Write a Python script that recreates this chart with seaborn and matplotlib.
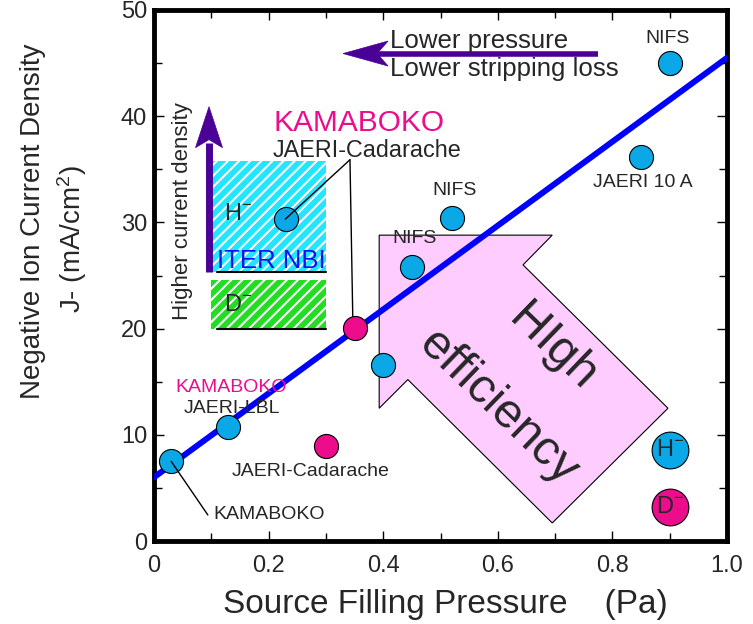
import numpy as np
import pandas as pd
import seaborn as sns
import matplotlib
matplotlib.use("Agg")
import matplotlib.pyplot as plt
from matplotlib.patches import Polygon, Rectangle
from matplotlib.transforms import ScaledTranslation
from matplotlib.ticker import MultipleLocator, FuncFormatter

# H- ion sources: filling pressure (Pa) and extracted current density (mA/cm2)
h_pressure = [0.03, 0.13, 0.23, 0.40, 0.45, 0.52, 0.85, 0.90]
h_density = [7.5, 10.7, 30.3, 16.6, 25.8, 30.4, 36.2, 45.0]
# D- ion sources
d_pressure = [0.30, 0.35]
d_density = [8.9, 20.1]
# trend line
fit_pressure = [0.0, 1.0]
fit_density = [6.0, 45.5]
# ITER NBI requirement bands (pressure range, current density range)
iter_pressure = [0.10, 0.30]
iter_h_density = [25.3, 35.75]
iter_d_density = [20.0, 24.6]

x_ticks = [0, 0.2, 0.4, 0.6, 0.8, 1.0]
y_ticks = [0, 10, 20, 30, 40, 50]

BLUE_PT = "#0AA8E6"
PINK_PT = "#EC0C8C"
PURPLE = "#4A0096"

sns.set_theme(style="white")
plt.rcParams["font.family"] = ["Liberation Sans", "DejaVu Sans"]
plt.rcParams["mathtext.fontset"] = "custom"
plt.rcParams["mathtext.rm"] = "Liberation Sans"
plt.rcParams["mathtext.it"] = "Liberation Sans:italic"
plt.rcParams["hatch.linewidth"] = 1.5
plt.rcParams["hatch.color"] = "white"

fig = plt.figure(figsize=(7.53, 6.24), dpi=100)
ax = fig.add_axes([154 / 753, 1 - 541 / 624, (727 - 154) / 753, (541 - 10) / 624])
ax.set_xlim(0, 1.0)
ax.set_ylim(0, 50)


def striped_band(y_range, color):
    """Solid band over the ITER pressure range with white diagonal stripes on top."""
    w = iter_pressure[1] - iter_pressure[0]
    h = y_range[1] - y_range[0]
    ax.add_patch(Rectangle((iter_pressure[0], y_range[0]), w, h, facecolor=color,
                           edgecolor="none", zorder=1.1))
    ax.add_patch(Rectangle((iter_pressure[0], y_range[0]), w, h, fill=False,
                           edgecolor="white", hatch="///", lw=0, zorder=1.2))


# ITER NBI bands
striped_band(iter_h_density, "#22E6FF")
striped_band(iter_d_density, "#22DD22")
ax.plot([0.11, iter_pressure[1]], [iter_h_density[0]] * 2, color="black", lw=1.5, zorder=2)
ax.plot([0.11, iter_pressure[1]], [iter_d_density[0]] * 2, color="black", lw=1.5, zorder=2)
ax.text(0.205, 26.4, "ITER NBI", color="#1010F0", fontsize=18.5, ha="center", va="center", zorder=3)
ax.text(0.122, 30.75, r"H$^{\mathregular{-}}$", fontsize=17, ha="left", va="center", zorder=3)
ax.text(0.122, 22.2, r"D$^{\mathregular{-}}$", fontsize=17, ha="left", va="center", zorder=3)

# large "high efficiency" arrow
big_arrow = [(0.393, 28.8), (0.695, 28.8), (0.644, 26.0), (0.897, 12.5),
             (0.695, 1.7), (0.443, 15.2), (0.393, 12.5)]
ax.add_patch(Polygon(big_arrow, closed=True, facecolor="#FFCCFF", edgecolor="black",
                     lw=0.8, zorder=1))
ax.text(0.696, 18.2, "HIgh", fontsize=35, rotation=-44, rotation_mode="anchor",
        ha="center", va="center", zorder=5)
ax.text(0.600, 12.5, "efficiency", fontsize=35, rotation=-44, rotation_mode="anchor",
        ha="center", va="center", zorder=5)


def stealth_head(tip, verts_px):
    """Notched arrow head whose outline is given in pixels relative to the tip."""
    trans = fig.dpi_scale_trans + ScaledTranslation(tip[0], tip[1], ax.transData)
    verts = [(vx / 100, vy / 100) for vx, vy in verts_px]
    ax.add_patch(Polygon(verts, closed=True, transform=trans, facecolor=PURPLE,
                         edgecolor=PURPLE, lw=0.5, zorder=4))


# horizontal arrow: lower pressure
ax.plot([0.39, 0.775], [45.9, 45.9], color=PURPLE, lw=4, solid_capstyle="butt", zorder=4)
stealth_head((0.33, 45.9), [(0, 0), (45, 12.5), (34, 0), (45, -12.5)])
ax.text(0.412, 47.1, "Lower pressure", fontsize=18.6, ha="left", va="center", zorder=5)
ax.text(0.412, 44.4, "Lower stripping loss", fontsize=18.6, ha="left", va="center", zorder=5)

# vertical arrow: higher current density
ax.plot([0.096, 0.096], [25.3, 37.5], color=PURPLE, lw=5, solid_capstyle="butt", zorder=4)
stealth_head((0.096, 40.9), [(0, 0), (13.5, -41), (0, -33), (-13.5, -41)])
ax.text(0.049, 31.1, "Higher current density", fontsize=16, rotation=90,
        ha="center", va="center", zorder=5)

# trend line
fit_df = pd.DataFrame({"p": fit_pressure, "j": fit_density})
sns.lineplot(data=fit_df, x="p", y="j", color="#0000FF", lw=4.3, ax=ax, zorder=3)

# leader lines
ax.plot([0.342, 0.229], [35.9, 30.3], color="black", lw=1, zorder=6)
ax.plot([0.342, 0.347], [35.9, 20.8], color="black", lw=1, zorder=3)
ax.plot([0.030, 0.094], [7.5, 2.45], color="black", lw=1, zorder=6)

# data points
h_df = pd.DataFrame({"p": h_pressure, "j": h_density})
d_df = pd.DataFrame({"p": d_pressure, "j": d_density})
sns.scatterplot(data=h_df, x="p", y="j", s=300, color=BLUE_PT, edgecolor="black",
                linewidth=0.8, ax=ax, zorder=5)
sns.scatterplot(data=d_df, x="p", y="j", s=300, color=PINK_PT, edgecolor="black",
                linewidth=0.8, ax=ax, zorder=5)

# key markers
ax.scatter([0.90], [8.6], s=700, color=BLUE_PT, edgecolor="black", lw=0.8, zorder=5)
ax.scatter([0.90], [3.2], s=700, color=PINK_PT, edgecolor="black", lw=0.8, zorder=5)
ax.text(0.90, 8.6, r"H$^{\mathregular{-}}$", fontsize=17, ha="center", va="center", zorder=6)
ax.text(0.90, 3.2, r"D$^{\mathregular{-}}$", fontsize=17, ha="center", va="center", zorder=6)

# source labels
lab = dict(fontsize=14, ha="center", va="center", zorder=6)
ax.text(0.897, 47.3, "NIFS", **lab)
ax.text(0.853, 33.8, "JAERI 10 A", **lab)
ax.text(0.525, 33.0, "NIFS", **lab)
ax.text(0.454, 28.5, "NIFS", **lab)
ax.text(0.134, 14.5, "KAMABOKO", color=PINK_PT, **lab)
ax.text(0.136, 12.5, "JAERI-LBL", **lab)
ax.text(0.273, 6.5, "JAERI-Cadarache", **lab)
ax.text(0.103, 2.45, "KAMABOKO", fontsize=14, ha="left", va="center", zorder=6)
ax.text(0.357, 39.4, "KAMABOKO", color=PINK_PT, fontsize=21.5, ha="center", va="center", zorder=6)
ax.text(0.371, 36.8, "JAERI-Cadarache", fontsize=16.8, ha="center", va="center", zorder=6)

# axes styling
for sp in ax.spines.values():
    sp.set_visible(True)
    sp.set_linewidth(3.5)
    sp.set_color("black")
ax.set_xticks(x_ticks)
ax.set_yticks(y_ticks)
ax.xaxis.set_minor_locator(MultipleLocator(0.1))
ax.yaxis.set_minor_locator(MultipleLocator(5))
ax.xaxis.set_major_formatter(FuncFormatter(lambda v, _: "0" if abs(v) < 1e-9 else f"{v:.1f}"))
ax.yaxis.set_major_formatter(FuncFormatter(lambda v, _: f"{v:.0f}"))
ax.tick_params(which="both", direction="in", top=True, right=True, bottom=True, left=True,
               width=1, color="black", labelsize=17)
ax.tick_params(which="major", length=7)
ax.tick_params(which="minor", length=6)
ax.tick_params(axis="x", which="major", pad=10)
ax.tick_params(axis="y", which="major", pad=5)
ax.set_xlabel("")
ax.set_ylabel("")

fig.text(445 / 753, 1 - 605 / 624, "Source Filling Pressure    (Pa)", fontsize=24,
         ha="center", va="center")
fig.text(33 / 753, 1 - 221 / 624, "Negative Ion Current Density", fontsize=20,
         rotation=90, ha="center", va="center")
fig.text(72 / 753, 1 - 239 / 624, r"J- (mA/cm$^{\mathregular{2}}$)", fontsize=20,
         rotation=90, ha="center", va="center")

fig.savefig("out.png", dpi=100)
